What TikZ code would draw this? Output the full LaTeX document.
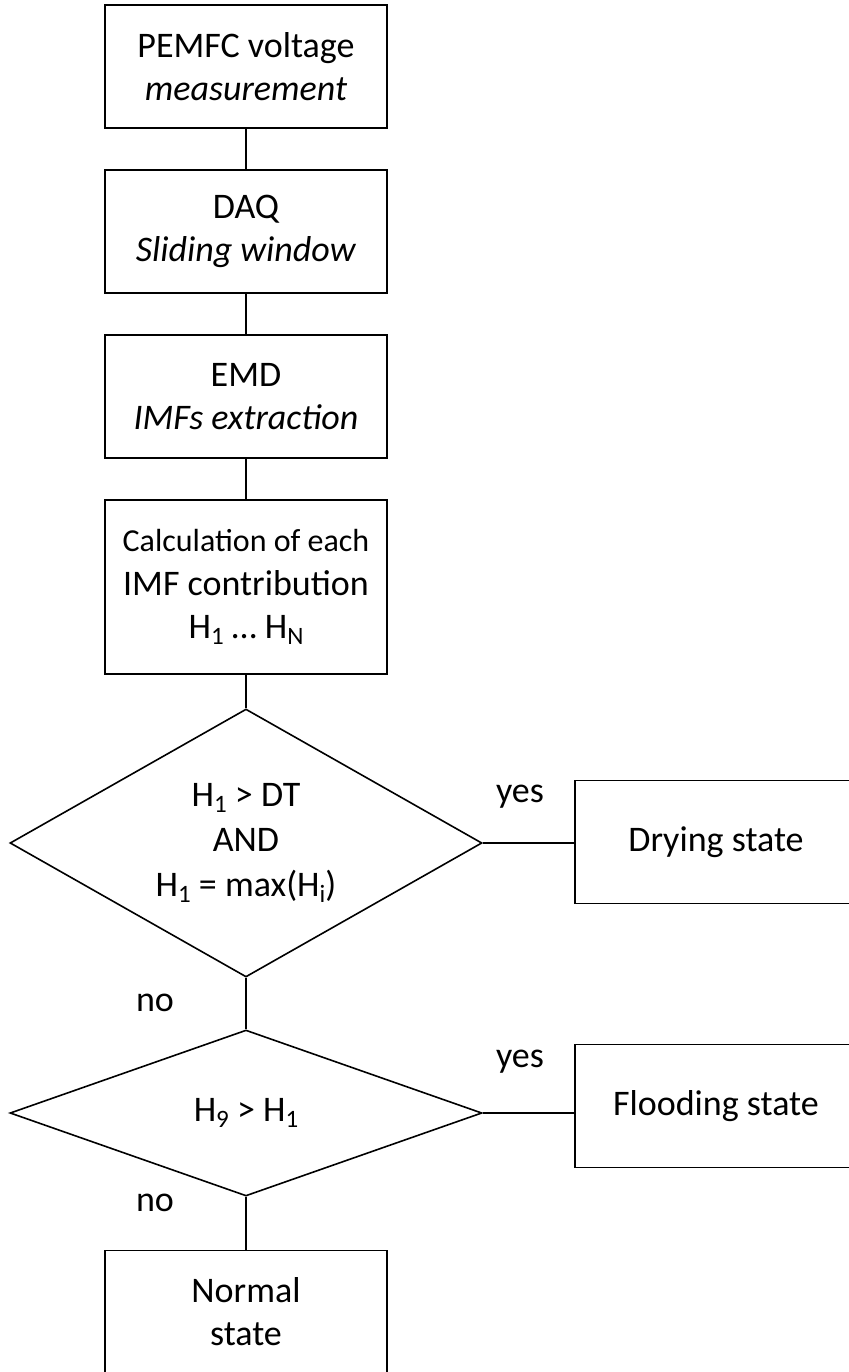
\documentclass[tikz,border=0pt]{standalone}
\usepackage{fontspec}
\setmainfont{Carlito}
\usetikzlibrary{shapes.geometric}
\newcommand{\hsub}[1]{\raisebox{-0.35ex}{\fontsize{12.5}{12.5}\selectfont #1}}
\tikzset{
  box/.style={draw,line width=0.8pt,minimum width=141pt,minimum height=61.5pt,
    align=center,inner sep=0pt,font=\fontsize{18}{21.6}\selectfont},
  test/.style={draw,diamond,line width=0.8pt,aspect=1.76,inner sep=0pt,
    align=center,font=\fontsize{18}{22.6}\selectfont},
  answer/.style={font=\fontsize{18}{21.6}\selectfont}
}
\begin{document}
\begin{tikzpicture}[x=0.5pt,y=-0.5pt,line width=0.8pt]
\useasboundingbox (0,0) rectangle (849,1372);

\node[box] (pemfc) at (246,66.5) {PEMFC voltage\\\textit{measurement}};
\node[box] (daq) at (246,231.5) {DAQ\\\textit{Sliding window}};
\node[box] (emd) at (246,396.5) {EMD\\\textit{IMFs extraction}};
\node[box,minimum height=87pt] (calc) at (246,587)
  {{\fontsize{16}{19}\selectfont Calculation of each}\\IMF contribution\\H\hsub{1} \dots\ H\hsub{N}};

\node[test,minimum width=236pt,minimum height=134pt] (drytest) at (246,843)
  {H\hsub{1} > DT\\AND\\H\hsub{1} = max(H\hsub{i})};
\node[box] (drying) at (716,842) {Drying state};

\node[test,minimum width=236pt,minimum height=83pt] (floodtest) at (246,1113)
  {H\hsub{9} > H\hsub{1}};
\node[box] (flooding) at (716,1106) {Flooding state};

\node[box] (normal) at (246,1312) {Normal\\state};

\node[answer] (yesdry) at (520,797) {yes};
\node[answer] (nodry) at (155,1003) {no};
\node[answer] (yesflood) at (520,1062) {yes};
\node[answer] (noflood) at (155,1203) {no};

\draw (pemfc) -- (daq);
\draw (daq) -- (emd);
\draw (emd) -- (calc);
\draw (calc) -- (drytest);
\draw (drytest.east) -- (drytest.east -| drying.west);
\draw (drytest) -- (floodtest);
\draw (floodtest.east) -- (floodtest.east -| flooding.west);
\draw (floodtest) -- (normal);
\end{tikzpicture}
\end{document}
